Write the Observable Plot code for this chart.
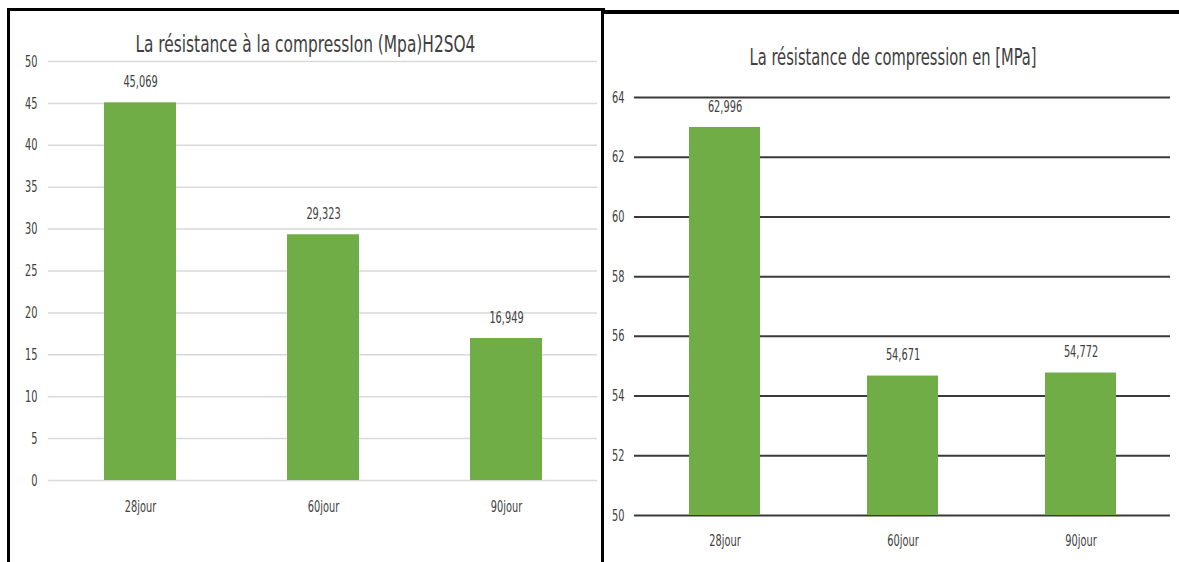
<!DOCTYPE html>
<html>
<head>
<meta charset="utf-8">
<script src="https://cdn.jsdelivr.net/npm/d3@7"></script>
<script src="https://cdn.jsdelivr.net/npm/@observablehq/plot@0.6"></script>
<style>
  html, body { margin: 0; padding: 0; background: #fff; }
  body { width: 1179px; height: 562px; position: relative; overflow: hidden;
         font-family: "Liberation Sans Narrow", "Arial Narrow", "DejaVu Sans Condensed", "Liberation Sans", sans-serif; }
  .panel { position: absolute; top: 0; height: 562px; }
  .title { position: absolute; white-space: nowrap; color: #404040; font-size: 23px; line-height: 1; }
  .line { position: absolute; background: #000; }
</style>
</head>
<body>
<div id="left" class="panel" style="left:0;width:603px"></div>
<div id="right" class="panel" style="left:603px;width:576px"></div>
<script>
// ---- data ----
const categories = ["28jour", "60jour", "90jour"];
const h2so4Values = [45.069, 29.323, 16.949];
const compressionValues = [62.996, 54.671, 54.772];
const leftTicks = [0, 5, 10, 15, 20, 25, 30, 35, 40, 45, 50];
const rightTicks = [50, 52, 54, 56, 58, 60, 62, 64];
const leftTitle = "La résistance à la compressIon (Mpa)H2SO4";
const rightTitle = "La résistance de compression en [MPa]";

const fmt = v => v.toFixed(3).replace(".", ",");
const green = "#70AD47";
const fontFamily = '"Liberation Sans Narrow", "Arial Narrow", "DejaVu Sans Condensed", "Liberation Sans", sans-serif';

const leftData = categories.map((c, i) => ({cat: c, v: h2so4Values[i]}));
const rightData = categories.map((c, i) => ({cat: c, v: compressionValues[i]}));

// ---- left chart ----
const leftPlot = Plot.plot({
  width: 603, height: 562,
  marginLeft: 48, marginRight: 6, marginTop: 61, marginBottom: 82,
  style: {color: "#404040", fontFamily, fontSize: "16px", background: "transparent"},
  x: {domain: categories, paddingInner: 0.607, paddingOuter: 0.3035, label: null},
  y: {domain: [leftTicks[0], leftTicks[leftTicks.length - 1]], label: null},
  marks: [
    Plot.gridY(leftTicks, {stroke: "#d9d9d9", strokeOpacity: 1, strokeWidth: 1.5}),
    Plot.barY(leftData, {x: "cat", y: "v", fill: green}),
    Plot.text(leftData, {x: "cat", y: "v", text: d => fmt(d.v), dy: -21, lineAnchor: "middle", fontSize: 16, fill: "#404040"}),
    Plot.axisY(leftTicks, {tickSize: 0, tickPadding: 11, fontSize: 16, label: null}),
    Plot.axisX({tickSize: 0, tickPadding: 20, fontSize: 16, label: null})
  ]
});
leftPlot.style.position = "absolute";
leftPlot.style.left = "0px";
leftPlot.style.top = "0px";
const leftEl = document.getElementById("left");
leftEl.appendChild(leftPlot);

// ---- right chart ----
const rightPlot = Plot.plot({
  width: 576, height: 562,
  marginLeft: 31, marginRight: 9, marginTop: 97, marginBottom: 47,
  style: {color: "#404040", fontFamily, fontSize: "16px", background: "transparent"},
  x: {domain: categories, paddingInner: 0.603, paddingOuter: 0.3015, label: null},
  y: {domain: [rightTicks[0], rightTicks[rightTicks.length - 1]], label: null},
  marks: [
    Plot.gridY(rightTicks, {stroke: "#3a3a3a", strokeOpacity: 1, strokeWidth: 2}),
    Plot.barY(rightData, {x: "cat", y1: () => rightTicks[0], y2: "v", fill: green}),
    Plot.text(rightData, {x: "cat", y: "v", text: d => fmt(d.v), dy: -21, lineAnchor: "middle", fontSize: 16, fill: "#404040"}),
    Plot.axisY(rightTicks, {tickSize: 0, tickPadding: 10, fontSize: 16, label: null}),
    Plot.axisX({tickSize: 0, tickPadding: 19, fontSize: 16, label: null})
  ]
});
rightPlot.style.position = "absolute";
rightPlot.style.left = "0px";
rightPlot.style.top = "0px";
const rightEl = document.getElementById("right");
rightEl.appendChild(rightPlot);

// narrow the chart text horizontally (reference uses a tall condensed face)
for (const svg of [leftPlot, rightPlot]) {
  svg.querySelectorAll("text").forEach(t => {
    if (t.querySelector("tspan")) return;
    const len = t.getComputedTextLength();
    if (len > 0) {
      t.setAttribute("textLength", (len * 0.68).toFixed(2));
      t.setAttribute("lengthAdjust", "spacingAndGlyphs");
    }
  });
}

// ---- titles ----
function addTitle(parent, text, cx, cy, targetWidth) {
  const t = document.createElement("div");
  t.className = "title";
  t.textContent = text;
  parent.appendChild(t);
  const w = t.offsetWidth, h = t.offsetHeight;
  const sx = targetWidth / w;
  t.style.left = (cx - w / 2) + "px";
  t.style.top = (cy - h / 2) + "px";
  t.style.transformOrigin = "50% 50%";
  t.style.transform = `scaleX(${sx.toFixed(3)})`;
}
addTitle(leftEl, leftTitle, 305, 44, 340);
addTitle(rightEl, rightTitle, 290, 57, 287);

// ---- panel borders ----
function addLine(parent, l, t, w, h) {
  const d = document.createElement("div");
  d.className = "line";
  Object.assign(d.style, {left: l + "px", top: t + "px", width: w + "px", height: h + "px"});
  parent.appendChild(d);
}
addLine(leftEl, 7, 8, 598, 3);   // left panel top
addLine(leftEl, 7, 8, 3, 554);   // left panel left
addLine(rightEl, -2, 10, 578, 4); // right panel top
addLine(rightEl, -2, 10, 3, 552); // right panel left
</script>
</body>
</html>
